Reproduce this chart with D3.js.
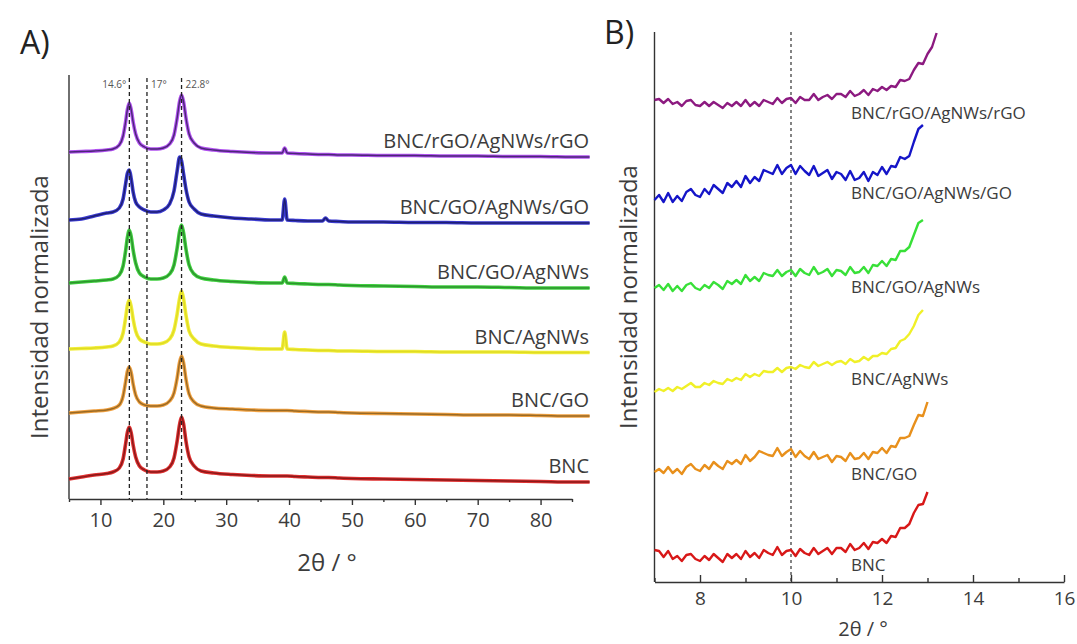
<!DOCTYPE html>
<html><head><meta charset="utf-8">
<script src="https://cdn.jsdelivr.net/npm/d3@7"></script>
<style>body{margin:0;background:#fff;} svg text{font-family:"Open Sans",sans-serif;}</style>
</head><body><svg id="c" width="1077" height="644"></svg>
<script>
// ---------------- DATA ----------------
const seriesNames = ["BNC","BNC/GO","BNC/AgNWs","BNC/GO/AgNWs","BNC/GO/AgNWs/GO","BNC/rGO/AgNWs/rGO"];
const colorsA = ["#e03030","#f0a040","#f2ee3a","#40d040","#3a3ad0","#b050f0"];
const coresA  = ["#7a1515","#8a6020","#dcd820","#2a8a2a","#1a1a60","#3a2060"];
const colorsB = ["#d81818","#e8901c","#f0f028","#38e038","#1515c8","#8c1a80"];

// Panel A: 2θ sampling and stacked intensities (a.u.)
const xA = [5,7,9,11,12,13,13.6,14.0,14.3,14.6,14.9,15.2,15.6,16.2,17,18,19,20,21,21.7,22.2,22.6,22.9,23.2,23.6,24.1,24.9,26,28,31,34,37,38.9,39.3,39.7,41,43,45.3,45.8,46.3,48,50,55,60,65,70,75,80,85,87.8];
const aBNC = [20,22,24,25.5,27,31,40,55,67,72,66,54,42,33,29,27,27,28,32,41,58,75,82,76,58,42,33,28,26,24.5,23.5,23,23,23,23,22.5,22,21.5,21.5,21.5,21,20.5,20,19.5,19,18.5,18,17.5,17,17];
const aBNC_GO = [86,87,88,89,90.5,94,103,117,128,132,126,115,104,97,94,93,93,94,98,106,121,137,143,137,120,105,97,93,91,90,89,88.5,88.5,88.5,88.5,88,87.5,87,87,87,86.5,86,85.5,85,84.5,84,84,83.5,83,83];
const aBNC_AgNWs = [150,150.5,151,152,153,157,166,181,194,199,192,180,168,160,157,155,155,156,160,169,185,201,208,201,184,168,160,155,153,151.5,150.5,150,150,167,150,149.5,149,148.5,148.5,148.5,148,148,147.5,147.5,147,147,147,146.5,146.5,146.5];
const aBNC_GO_AgNWs = [216,217,218,219,220,224,233,248,262,269,262,249,236,226,222,220,220,221,225,234,251,268,274,267,250,234,225,221,219,217.5,216.5,216,216,222,216,215.5,215,214.5,214.5,214.5,214,213.5,213,212.5,212,212,211.5,211,211,211];
const aBNC_GO_AgNWs_GO = [279,280,283,286,287,291,300,315,326,329,320,307,297,292,289,287,287,289,295,308,328,342,338,326,310,297,290,285,283,281,280,279,279,300,279,278.5,278,278,281,278,277.5,277,277,276.5,276.5,276,276,276,276,276];
const aBNC_rGO = [347,347.5,348,349,350,354,363,377,390,396,389,377,365,356,352,350,350,351,355,364,381,398,404,398,381,365,356,351,349,347.5,346.5,346,346,351,346,345.5,345,344.5,344.5,344.5,344,344,343.5,343.5,343,343,342.5,342.5,342,342];
const seriesA = [aBNC,aBNC_GO,aBNC_AgNWs,aBNC_GO_AgNWs,aBNC_GO_AgNWs_GO,aBNC_rGO];
const refLines = [14.6, 17.4, 22.9];
const refLabels = ["14.6°","17°","22.8°"];
const ticksAMajor = [10,20,30,40,50,60,70,80];
const ticksAMinor = [5,15,25,35,45,55,65,75,85];

// Panel B: low-angle region, sampled every 0.1° from 7°
const bStart = 7, bStep = 0.1;
const bBNC = [32,31,25,31,23,26,21,27,28,23,21,26,22,28,24,20,28,24,28,23,31,25,29,24,32,29,27,35,27,31,32,26,33,29,27,34,28,31,34,28,34,34,30,38,32,34,39,33,40,39,43,39,46,45,54,54,58,69,77,78,90];
const bBNC_GO = [110,113,109,115,109,113,108,115,118,113,111,117,113,120,116,113,121,118,122,118,127,121,125,131,129,127,126,134,126,130,133,125,131,126,123,130,123,125,127,120,126,125,121,129,123,124,129,123,130,129,134,129,136,135,144,144,146,157,167,166,180];
const bBNC_AgNWs = [190,193,191,194,191,195,193,196,199,195,195,199,197,201,199,198,203,201,204,202,208,205,208,206,211,210,210,214,210,214,215,213,217,215,214,220,216,218,220,217,220,221,218,223,220,221,225,222,226,226,229,228,233,234,241,243,248,256,267,272];
const bBNC_GO_AgNWs = [294,297,292,298,291,296,291,297,299,294,292,297,294,300,297,293,301,298,302,298,307,301,305,301,309,307,306,312,306,310,312,306,313,309,307,315,308,310,313,306,312,311,307,315,309,310,315,309,317,316,321,316,323,322,331,331,335,347,359,362];
const bBNC_GO_AgNWs_GO = [382,387,380,389,380,386,381,390,393,387,385,393,388,397,393,389,399,395,401,395,406,399,405,401,412,410,408,417,408,414,417,408,416,411,407,416,406,409,412,403,410,408,402,411,402,404,410,401,410,407,415,408,416,415,425,423,426,440,453,457];
const bBNC_rGO = [482,483,479,483,478,480,476,481,482,477,476,480,476,480,477,474,479,476,480,476,482,476,480,476,482,480,478,484,479,483,484,479,485,482,482,488,482,485,487,483,488,488,485,491,486,488,492,487,493,491,495,492,496,495,502,501,503,512,519,518,528,535,549];
const seriesB = [bBNC,bBNC_GO,bBNC_AgNWs,bBNC_GO_AgNWs,bBNC_GO_AgNWs_GO,bBNC_rGO];
const refLineB = 10;
const ticksBMajor = [8,10,12,14,16];
const ticksBMinor = [7,9,11,13,15];
const labelAnchorB = 12;

// ---------------- DRAW ----------------
const svg = d3.select("#c");
const axisColor = "#333";
const textColor = "#3c3c3c";

// ===== Panel A =====
const xa = d3.scaleLinear().domain([5,85]).range([69,572]);
const ya = d3.scaleLinear().domain([0,424]).range([499,75]);
const gA = svg.append("g");

gA.append("text").attr("x",20).attr("y",54).attr("font-size",32).attr("fill","#222").text("A)");

gA.append("line").attr("x1",xa(5)).attr("x2",xa(5)).attr("y1",ya(424)).attr("y2",ya(0))
  .attr("stroke",axisColor).attr("stroke-width",1.4);

const axA = gA.append("g").attr("transform",`translate(0,${ya(0)})`)
  .call(d3.axisBottom(xa).tickValues(ticksAMajor).tickSize(6).tickSizeOuter(0).tickPadding(8).tickFormat(d3.format("d")));
const axAm = gA.append("g").attr("transform",`translate(0,${ya(0)})`)
  .call(d3.axisBottom(xa).tickValues(ticksAMinor).tickSize(3).tickSizeOuter(0).tickFormat(""));
[axA,axAm].forEach(a=>{a.selectAll("path,line").attr("stroke",axisColor).attr("stroke-width",1.4);});
axAm.select(".domain").remove();
axA.selectAll("text").attr("font-size",20).attr("fill",textColor).attr("font-family","Open Sans");

gA.append("text").attr("x",327).attr("y",571).attr("text-anchor","middle").attr("font-size",24)
  .attr("fill",textColor).text("2θ / °");
gA.append("text").attr("transform","translate(48,307) rotate(-90)").attr("text-anchor","middle")
  .attr("font-size",24).attr("fill",textColor).text("Intensidad normalizada");

const lineA = d3.line().x((d,i)=>xa(xA[i])).y(d=>ya(d)).curve(d3.curveMonotoneX);
seriesA.forEach((s,k)=>{
  gA.append("path").attr("d",lineA(s)).attr("fill","none").attr("stroke",colorsA[k]).attr("stroke-width",3.6)
    .attr("stroke-linejoin","round");
  gA.append("path").attr("d",lineA(s)).attr("fill","none").attr("stroke",coresA[k]).attr("stroke-width",1.4)
    .attr("stroke-linejoin","round").attr("opacity",0.85);
});

refLines.forEach((v,i)=>{
  gA.append("line").attr("x1",xa(v)).attr("x2",xa(v)).attr("y1",78).attr("y2",ya(0))
    .attr("stroke","#222").attr("stroke-width",1.3).attr("stroke-dasharray","4,3");
  const left = i===0;
  gA.append("text").attr("x",xa(v)+(left?-3:4)).attr("y",88).attr("text-anchor",left?"end":"start")
    .attr("font-size",10).attr("fill","#555").text(refLabels[i]);
});

seriesA.forEach((s,k)=>{
  gA.append("text").attr("x",589).attr("y",ya(s[s.length-1])-9).attr("text-anchor","end")
    .attr("font-size",20).attr("fill",textColor).text(seriesNames[k]);
});

// ===== Panel B =====
const xb = d3.scaleLinear().domain([7,16]).range([654.5,1064]);
const yb = d3.scaleLinear().domain([0,550]).range([582,32]);
const gB = svg.append("g");

gB.append("text").attr("x",604).attr("y",44).attr("font-size",32).attr("fill","#222").text("B)");

gB.append("line").attr("x1",xb(7)).attr("x2",xb(7)).attr("y1",yb(550)).attr("y2",yb(0))
  .attr("stroke",axisColor).attr("stroke-width",1.4);

const axB = gB.append("g").attr("transform",`translate(0,${yb(0)})`)
  .call(d3.axisBottom(xb).tickValues(ticksBMajor).tickSize(-7).tickSizeOuter(0).tickPadding(10).tickFormat(d3.format("d")));
const axBm = gB.append("g").attr("transform",`translate(0,${yb(0)})`)
  .call(d3.axisBottom(xb).tickValues(ticksBMinor).tickSize(-4).tickSizeOuter(0).tickFormat(""));
[axB,axBm].forEach(a=>{a.selectAll("path,line").attr("stroke",axisColor).attr("stroke-width",1.4);});
axBm.select(".domain").remove();
axB.selectAll("text").attr("font-size",19).attr("fill",textColor).attr("font-family","Open Sans");

gB.append("text").attr("x",863).attr("y",636).attr("text-anchor","middle").attr("font-size",20)
  .attr("fill",textColor).text("2θ / °");
gB.append("text").attr("transform","translate(637,297) rotate(-90)").attr("text-anchor","middle")
  .attr("font-size",24).attr("fill",textColor).text("Intensidad normalizada");

gB.append("line").attr("x1",xb(refLineB)).attr("x2",xb(refLineB)).attr("y1",yb(550)).attr("y2",yb(0))
  .attr("stroke","#333").attr("stroke-width",1.2).attr("stroke-dasharray","3,3");

const lineB = d3.line().x((d,i)=>xb(bStart+i*bStep)).y(d=>yb(d));
seriesB.forEach((s,k)=>{
  gB.append("path").attr("d",lineB(s)).attr("fill","none").attr("stroke",colorsB[k]).attr("stroke-width",2.4)
    .attr("stroke-linejoin","round");
});

seriesB.forEach((s,k)=>{
  const idx = Math.round((labelAnchorB-bStart)/bStep);
  gB.append("text").attr("x",851).attr("y",yb(s[idx])+32).attr("text-anchor","start")
    .attr("font-size",17).attr("fill",textColor).text(seriesNames[k]);
});
</script></body></html>
